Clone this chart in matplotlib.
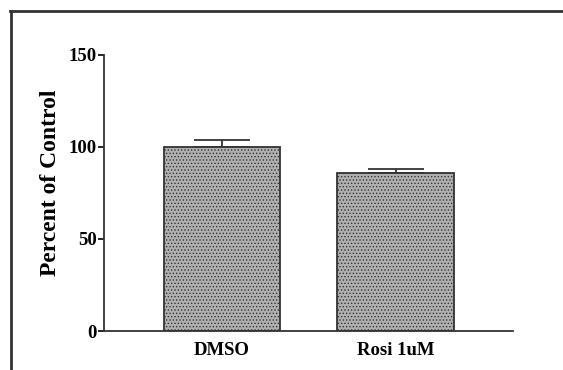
import matplotlib
matplotlib.use('Agg')
from matplotlib import pyplot as plt
from matplotlib.lines import Line2D

#== Dados ==#
grupos = ['DMSO', 'Rosi 1uM']
valores = [100, 86]
erros = [3.6, 2.3]

plt.rcParams['font.family'] = ['Liberation Serif', 'DejaVu Serif']
plt.rcParams['hatch.color'] = '#7a7a7a'
plt.rcParams['hatch.linewidth'] = 0.6

fig = plt.figure(figsize=(5.63, 3.70), dpi=100)
ax = fig.add_axes([0.1847, 0.1054, 0.7265, 0.746])

x = list(range(len(grupos)))
ax.bar(x, valores, width=0.67, color='#b0b0b0', edgecolor='#333333',
       linewidth=1.3, hatch='.....', zorder=2)
ax.errorbar(x, valores, yerr=[[0] * len(erros), erros], fmt='none',
            ecolor='#333333', elinewidth=1.3, capsize=20, capthick=1.3, zorder=1)

ax.set_xlim(-0.68, 1.677)
ax.set_ylim(0, 150)
ax.set_yticks([0, 50, 100, 150])
ax.set_xticks(x)
ax.set_xticklabels(grupos, fontsize=13.5, fontweight='bold')
ax.tick_params(axis='x', length=0, pad=8)
ax.tick_params(axis='y', length=4, width=1.2, pad=1, labelsize=13.5)
for t in ax.get_yticklabels():
    t.set_fontweight('bold')

for s in ['top', 'right']:
    ax.spines[s].set_visible(False)
for s in ['left', 'bottom']:
    ax.spines[s].set_linewidth(1.3)
    ax.spines[s].set_color('#333333')

ax.set_ylabel('Percent of Control', fontsize=17, fontweight='bold')
ax.yaxis.set_label_coords(-0.106, 0.538)

# moldura da figura (cortada na direita e embaixo)
fig.add_artist(Line2D([10.5 / 563, 10.5 / 563], [0, 1 - 11 / 370],
                      transform=fig.transFigure, color='#333333', lw=2))
fig.add_artist(Line2D([10 / 563, 1], [1 - 11 / 370, 1 - 11 / 370],
                      transform=fig.transFigure, color='#333333', lw=2))

fig.savefig('out.png', dpi=100)
